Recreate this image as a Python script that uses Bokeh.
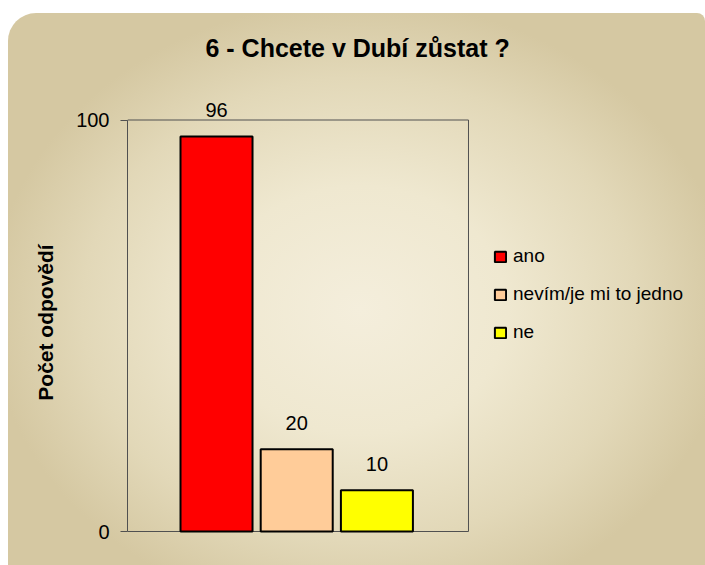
from bokeh.plotting import figure
from bokeh.models import (ColumnDataSource, Range1d, FixedTicker, Legend, LegendItem,
                          LabelSet, BoxAnnotation)
from bokeh.core.properties import value
from bokeh.embed import file_html
from bokeh.resources import INLINE

# ---- data ----
categories = ["ano", "nevím/je mi to jedno", "ne"]
values = [96, 20, 10]
colors = ["#ff0000", "#ffcc99", "#ffff00"]
positions = [1, 2, 3]
y_ticks = [0, 100]
title_text = "6 - Chcete v Dubí zůstat ?"
y_label = "Počet odpovědí"

FONT = "Liberation Sans"

# plot-area extent in data units (the frame is larger so that labels / legend are not clipped)
area_x = (-0.11, 4.142)
area_y = (0, 100)

src = ColumnDataSource(dict(
    x=positions, top=values, cat=categories, color=colors,
    label=[str(v) for v in values],
))

p = figure(
    width=697, height=552, output_backend="svg", toolbar_location=None,
    x_range=Range1d(area_x[0], 7.035), y_range=Range1d(-8.262, 109.842),
    min_border_left=119, min_border_right=5, min_border_top=66, min_border_bottom=0,
)

p.border_fill_color = None
p.background_fill_color = None
p.styles = {
    "margin-left": "8px",
    "margin-top": "13px",
    "background": "radial-gradient(ellipse 370px 310px at 352px 297px, #f4eedc 0%, #efe8d0 40%, #e2d8b8 75%, #d5c8a2 100%)",
    "border-top-left-radius": "28px",
    "border-top-right-radius": "8px",
}

p.outline_line_color = None
p.xgrid.visible = False
p.ygrid.visible = False
p.xaxis.visible = False

# title
p.title.text = title_text
p.title.align = "left"
p.title.offset = 78
p.title.vertical_align = "bottom"
p.title.standoff = 36
p.title.text_font = FONT
p.title.text_font_size = "25px"
p.title.text_font_style = "bold"
p.title.text_color = "black"

# y axis
ya = p.yaxis[0]
ya.ticker = FixedTicker(ticks=y_ticks)
ya.bounds = area_y
ya.major_label_text_font = FONT
ya.major_label_text_font_size = "20px"
ya.major_label_text_color = "black"
ya.major_tick_out = 7
ya.major_tick_in = 0
ya.minor_tick_out = 0
ya.minor_tick_in = 0
ya.axis_line_color = "#505050"
ya.major_tick_line_color = "#505050"
ya.major_label_standoff = 11
ya.axis_label = y_label
ya.axis_label_text_font = FONT
ya.axis_label_text_font_size = "21px"
ya.axis_label_text_font_style = "bold"
ya.axis_label_text_color = "black"
ya.axis_label_standoff = 16

# plot-area border
box = BoxAnnotation(left=area_x[0], right=area_x[1], bottom=area_y[0], top=area_y[1],
                    fill_color=None, fill_alpha=0, line_color="#505050", line_alpha=1.0,
                    line_width=1, level="underlay")
p.add_layout(box)

# bars
r = p.vbar(x="x", top="top", bottom=0, width=0.898, source=src,
           fill_color="color", line_color="black", line_width=2)

# value labels
labels = LabelSet(x="x", y="top", text="label", source=src,
                  text_align="center", text_baseline="alphabetic", y_offset=19,
                  text_font=value(FONT), text_font_size=value("20px"), text_color="black")
p.add_layout(labels)

# legend
items = [LegendItem(label=c, renderers=[r], index=i) for i, c in enumerate(categories)]
legend = Legend(items=items, location=(366, 222), padding=0, spacing=16, margin=0,
                glyph_width=14, glyph_height=13, label_standoff=6,
                label_text_font=FONT, label_text_font_size="19px", label_text_color="black",
                border_line_alpha=0, background_fill_alpha=0)
p.add_layout(legend)

open("out.html", "w").write(file_html(p, INLINE))
